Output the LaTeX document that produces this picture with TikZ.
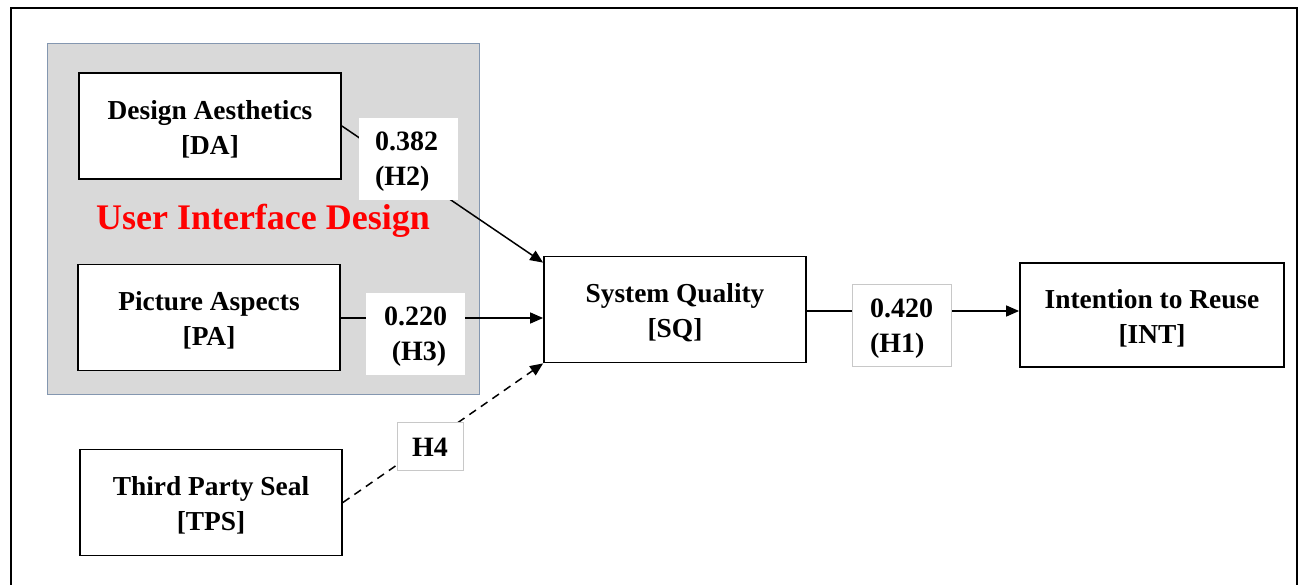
\documentclass[tikz,border=0pt]{standalone}
\usepackage{fontspec}
\setmainfont{Liberation Serif}
\usetikzlibrary{arrows.meta,calc}
\definecolor{panelgray}{HTML}{D9D9D9}
\definecolor{panelborder}{HTML}{8497B0}
\definecolor{lblborder}{HTML}{C8C8C8}
\tikzset{
  box/.style={draw=black, line width=0.9pt, fill=white, minimum width=131pt, minimum height=53pt, inner sep=0pt},
  boxtxt/.style={inner sep=0pt, align=center, font=\fontsize{13.7}{17.5}\selectfont\bfseries},
  lbl/.style={fill=white, minimum width=49.5pt, minimum height=41pt, inner sep=0pt},
  lbltxt/.style={inner sep=0pt, font=\fontsize{14}{17.5}\selectfont\bfseries},
  conn/.style={line width=0.75pt, -{Triangle[length=6.5pt,width=5.5pt]}},
}
\begin{document}
\begin{tikzpicture}[x=0.5pt,y=-0.5pt]
\useasboundingbox (0,0) rectangle (1301,584);
% outer frame
\draw[line width=1pt] (11,590) -- (11,8) -- (1297,8) -- (1297,590);
% gray panel
\node[fill=panelgray, draw=panelborder, line width=0.5pt, minimum width=216pt, minimum height=175.5pt, inner sep=0pt] (panel) at (263,218.5) {};
% boxes
\node[box] (DA) at (210,126) {};
\node[boxtxt] (DAt) at ($(DA.center)+(0,3)$) {Design Aesthetics\\{[DA]}};
\node[box] (PA) at (209,317.5) {};
\node[boxtxt] (PAt) at ($(PA.center)+(0,3)$) {Picture Aspects\\{[PA]}};
\node[box] (TPS) at (211,502.5) {};
\node[boxtxt] (TPSt) at ($(TPS.center)+(0,3)$) {Third Party Seal\\{[TPS]}};
\node[box] (SQ) at (675,309.5) {};
\node[boxtxt] (SQt) at ($(SQ.center)+(0,3)$) {System Quality\\{[SQ]}};
\node[box, minimum width=132pt, minimum height=52pt] (INT) at (1152,315) {};
\node[boxtxt] (INTt) at ($(INT.center)+(0,3)$) {Intention to Reuse\\{[INT]}};
\node[text=red, font=\fontsize{18}{22}\selectfont\bfseries, inner sep=0pt] (UID) at (263,221) {User Interface Design};
% connectors
\coordinate (sqda) at ($(SQ.north west)+(0,7)$);
\draw[conn] (DA.east) -- (sqda);
\draw[conn] (PA.east |- 0,318) -- (SQ.west |- 0,318);
\draw[conn, dash pattern=on 4pt off 3pt] (TPS.east) -- (SQ.south west);
\draw[conn] (SQ.east |- 0,311) -- (INT.west |- 0,311);
% labels
\node[lbl] (L2) at (408.5,159) {};
\node[lbl] (L3) at (415.5,334) {};
\node[lbl, draw=lblborder, line width=0.4pt] (L1) at (901.5,325.5) {};
\node[lbl, draw=lblborder, line width=0.5pt, minimum width=33pt, minimum height=24pt] (L4) at (430,446) {};
\node[lbltxt, align=left] (L2t) at ($(L2.center)+(-2,3)$) {0.382\\(H2)};
\node[lbltxt, align=center] (L3t) at ($(L3.center)+(0,3)$) {0.220\\\ (H3)};
\node[lbltxt, align=left] (L1t) at ($(L1.center)+(0,3)$) {0.420\\(H1)};
\node[lbltxt] (L4t) at ($(L4.center)+(0,1)$) {H4};
\end{tikzpicture}
\end{document}
